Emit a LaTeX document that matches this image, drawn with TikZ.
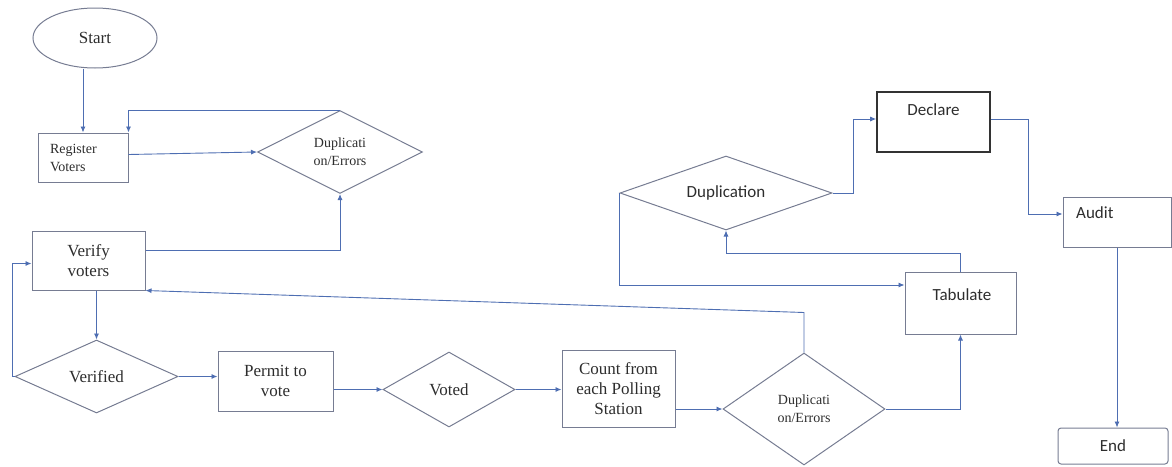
\documentclass[tikz,border=0pt]{standalone}
\usepackage{fontspec}
\setmainfont{Liberation Serif}
\newfontfamily\calibri{Carlito}
\usetikzlibrary{shapes.geometric,arrows.meta}
\definecolor{flowblue}{RGB}{78,110,178}
\definecolor{edgegray}{RGB}{118,124,146}
\definecolor{inkgray}{RGB}{45,45,45}
\newcommand{\serifText}[0]{\fontsize{17}{20}\selectfont}
\newcommand{\smallSerif}[0]{\fontsize{14}{18}\selectfont}
\newcommand{\sansText}[0]{\calibri\fontsize{17}{20}\selectfont}

\begin{document}
\begin{tikzpicture}[x=1pt, y=-1pt]
  \tikzset{every node/.style={inner sep=0pt, text=inkgray},
    box/.style={draw=edgegray, line width=1pt, rectangle, font=\serifText, align=center},
    decision/.style={draw=edgegray, line width=1pt, diamond, aspect=2, font=\serifText, align=center},
    flow/.style={draw=flowblue, line width=0.9pt, -{Latex[length=6pt,width=5pt]}}}
  \useasboundingbox (0,0) rectangle (1172,466);

  % voting side
  \node[ellipse, draw=edgegray, line width=1pt, minimum width=124pt, minimum height=60pt, font=\serifText] (start) at (95,38) {Start};
  \node[box, minimum width=90pt, minimum height=49pt, font=\smallSerif, text width=66pt, align=left] (register) at (83,157.5) {Register\\Voters};
  \node[decision, minimum width=165pt, minimum height=83pt, font=\smallSerif] (dupone) at (340,152) {Duplicati\\on/Errors};
  \node[box, minimum width=113pt, minimum height=59pt] (verify) at (88.5,260.5) {Verify\\voters};
  \node[decision, minimum width=163pt, minimum height=73pt] (verified) at (96.5,376.5) {Verified};
  \node[box, minimum width=115pt, minimum height=60pt] (permit) at (275.5,381) {Permit to\\vote};
  \node[decision, minimum width=132pt, minimum height=75pt] (voted) at (449,389.5) {Voted};
  \node[box, minimum width=113pt, minimum height=77pt] (count) at (618.5,388.5) {Count from\\each Polling\\Station};
  \node[decision, minimum width=162pt, minimum height=112pt, font=\smallSerif] (duptwo) at (804,409) {Duplicati\\on/Errors};

  % counting side
  \node[decision, minimum width=212pt, minimum height=74pt, font=\sansText] (duplication) at (726,193) {Duplication};
  \node[box, draw=black!80, line width=1.6pt, minimum width=113pt, minimum height=60pt] (declare) at (933.5,122) {};
  \node[font=\sansText] (declaretext) at (933.5,110) {Declare};
  \node[box, minimum width=111pt, minimum height=62pt] (tabulate) at (960.5,303) {};
  \node[font=\sansText] (tabulatetext) at (962,295) {Tabulate};
  \node[box, minimum width=108pt, minimum height=50pt] (audit) at (1117,222) {};
  \node[font=\sansText, anchor=west] (audittext) at (1076,213) {Audit};
  \node[box, rounded corners=3pt, minimum width=110pt, minimum height=36pt, font=\sansText] (finish) at (1113,446) {End};

  \draw[flow] (start.south -| register.north) -- (register.north);
  \draw[flow] ([yshift=3pt]register.east) -- (dupone.west);
  \draw[flow] (dupone.north) -- (dupone.north -| register.north east) -- (register.north east);
  \draw[flow] ([yshift=10pt]verify.east) -| (dupone.south);
  \draw[flow] (verify.south -| verified.north) -- (verified.north);
  \draw[flow] (verified.west) -- ++(-2,0) |- ([yshift=-3pt]verify.west);
  \draw[flow] (verified.east) -- (verified.east -| permit.west);
  \draw[flow] (permit.east |- voted.west) -- (voted.west);
  \draw[flow] (voted.east) -- (voted.east -| count.west);
  \draw[flow] (count.east |- duptwo.west) -- (duptwo.west);
  \draw[flow] (duptwo.north) -- ++(0,-40) -- (verify.south east);
  \draw[flow] (duptwo.east) -| (tabulate.south);
  \draw[flow] (tabulate.north) -- ++(0,-18) -| (duplication.south);
  \draw[flow] (duplication.west) |- ([yshift=18pt]tabulate.west);
  \draw[flow] (duplication.east) -- ++(21,0) |- ([yshift=3pt]declare.west);
  \draw[flow] ([yshift=3pt]declare.east) -- ++(38,0) |- ([yshift=8pt]audit.west);
  \draw[flow] (audit.south) -- (audit.south |- finish.north);
\end{tikzpicture}
\end{document}
